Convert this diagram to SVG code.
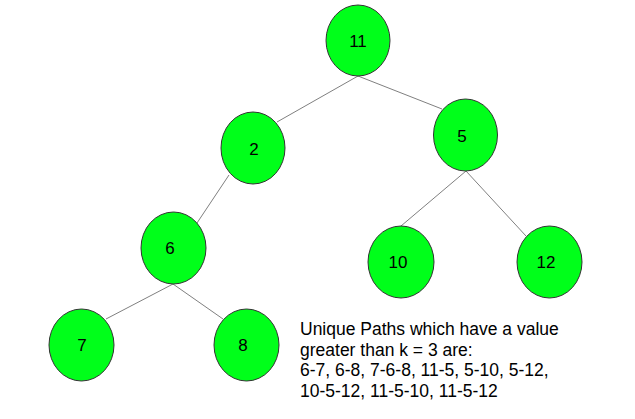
<svg xmlns="http://www.w3.org/2000/svg" width="635" height="419" viewBox="0 0 635 419">
<style>
.n{fill:#00ff1a;stroke:#333333;stroke-width:1}
.t{font-family:"Liberation Sans",Arial,sans-serif;font-size:17px;fill:#000;text-anchor:middle}
.c line{stroke:#808080;stroke-width:1}
.d{font-family:"Liberation Sans",Arial,sans-serif;font-size:17.5px;fill:#000}
</style>
<rect width="635" height="419" fill="#fff"/>
<g id="connectors" class="c">
<line x1="358" y1="76" x2="277" y2="122"/>
<line x1="358" y1="76" x2="442" y2="109"/>
<line x1="229" y1="175" x2="197" y2="223"/>
<line x1="466" y1="171" x2="401" y2="226"/>
<line x1="466" y1="171" x2="526" y2="236"/>
<line x1="173" y1="284" x2="106" y2="319"/>
<line x1="173" y1="284" x2="223" y2="319"/>
</g>
<g id="n11"><ellipse class="n" cx="358" cy="40.5" rx="32" ry="35.5"/><text class="t" x="358" y="47">11</text></g>
<g id="n2"><ellipse class="n" cx="253" cy="148" rx="32" ry="36"/><text class="t" x="254" y="155">2</text></g>
<g id="n5"><ellipse class="n" cx="465.5" cy="135" rx="32" ry="36"/><text class="t" x="462" y="142">5</text></g>
<g id="n6"><ellipse class="n" cx="173.5" cy="248" rx="32.5" ry="36"/><text class="t" x="170" y="254">6</text></g>
<g id="n10"><ellipse class="n" cx="401" cy="262" rx="33" ry="36"/><text class="t" x="398" y="268">10</text></g>
<g id="n12"><ellipse class="n" cx="549.5" cy="262" rx="32.5" ry="36"/><text class="t" x="546" y="268">12</text></g>
<g id="n7"><ellipse class="n" cx="81.5" cy="345" rx="32.5" ry="36"/><text class="t" x="82" y="351">7</text></g>
<g id="n8"><ellipse class="n" cx="246.5" cy="345" rx="32.5" ry="36"/><text class="t" x="243" y="351">8</text></g>
<g id="note">
<text class="d" x="300" y="335">Unique Paths which have a value</text>
<text class="d" x="300" y="355.5">greater than k = 3 are:</text>
<text class="d" x="300" y="376">6-7, 6-8, 7-6-8, 11-5, 5-10, 5-12,</text>
<text class="d" x="300" y="397">10-5-12, 11-5-10, 11-5-12</text>
</g>
</svg>
